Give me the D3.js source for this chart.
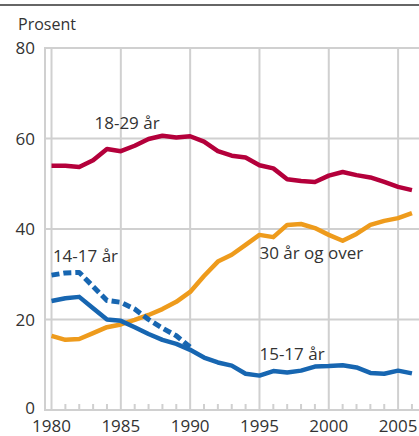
<!DOCTYPE html>
<html>
<head>
<meta charset="utf-8">
<script src="https://cdn.jsdelivr.net/npm/d3@7"></script>
<style>
  body { margin: 0; background: #fff; }
  text { font-family: "Open Sans", sans-serif; fill: #333; }
</style>
</head>
<body>
<div id="chart"></div>
<script>
const years = d3.range(1980, 2007);
const age18to29 = [54.0, 54.0, 53.7, 55.2, 57.7, 57.2, 58.4, 59.9, 60.6, 60.2, 60.5, 59.3, 57.2, 56.2, 55.8, 54.1, 53.4, 51.0, 50.6, 50.4, 51.8, 52.6, 51.9, 51.4, 50.4, 49.3, 48.6];
const age30plus = [16.4, 15.5, 15.7, 17.0, 18.3, 18.9, 19.9, 21.0, 22.3, 23.9, 26.1, 29.6, 32.8, 34.3, 36.5, 38.7, 38.2, 40.9, 41.1, 40.2, 38.7, 37.4, 38.9, 40.9, 41.8, 42.4, 43.5];
const age15to17 = [24.1, 24.7, 25.0, 22.5, 20.0, 19.7, 18.3, 16.8, 15.5, 14.6, 13.3, 11.6, 10.5, 9.8, 8.0, 7.6, 8.6, 8.3, 8.7, 9.6, 9.7, 9.9, 9.4, 8.2, 8.0, 8.7, 8.1];
const years14to17 = d3.range(1980, 1991);
const age14to17 = [29.8, 30.3, 30.4, 27.3, 24.2, 23.8, 22.3, 20.0, 18.1, 16.4, 13.9];
const yTicks = [0, 20, 40, 60, 80];
const xTicks = [1980, 1985, 1990, 1995, 2000, 2005];

const width = 419, height = 436;
const svg = d3.select("#chart").append("svg")
    .attr("width", width)
    .attr("height", height);

const x = d3.scaleLinear().domain([1979.53, 2006.4]).range([45, 417.5]);
const y = d3.scaleLinear().domain([0, 80]).range([410, 48]);

const grid = "#d0d0d0";

// top rule
svg.append("line")
    .attr("x1", 0).attr("x2", width)
    .attr("y1", 5).attr("y2", 5)
    .attr("stroke", "#333").attr("stroke-width", 1.5);

svg.append("text")
    .attr("x", 18).attr("y", 30)
    .style("font-size", "16px")
    .text("Prosent");

// horizontal grid
svg.selectAll(".hgrid")
    .data(yTicks.filter(d => d > 0))
    .enter().append("line")
    .attr("x1", x.range()[0]).attr("x2", width)
    .attr("y1", d => y(d)).attr("y2", d => y(d))
    .attr("stroke", grid).attr("stroke-width", 2);

// vertical grid
svg.selectAll(".vgrid")
    .data(xTicks)
    .enter().append("line")
    .attr("x1", d => x(d)).attr("x2", d => x(d))
    .attr("y1", y(80)).attr("y2", y(0))
    .attr("stroke", grid).attr("stroke-width", 2);

// minor ticks
svg.selectAll(".minor")
    .data(years.filter(d => d % 5 !== 0))
    .enter().append("line")
    .attr("x1", d => x(d)).attr("x2", d => x(d))
    .attr("y1", y(0) - 6).attr("y2", y(0))
    .attr("stroke", grid).attr("stroke-width", 2);

// axes lines
svg.append("line")
    .attr("x1", x.range()[0]).attr("x2", x.range()[0])
    .attr("y1", y(80) - 1).attr("y2", y(0))
    .attr("stroke", grid).attr("stroke-width", 2);
svg.append("line")
    .attr("x1", x.range()[0] - 1).attr("x2", width)
    .attr("y1", y(0)).attr("y2", y(0))
    .attr("stroke", grid).attr("stroke-width", 2);

// tick labels
svg.selectAll(".ylab")
    .data(yTicks)
    .enter().append("text")
    .attr("x", 35)
    .attr("y", d => y(d) - (d === 0 ? 2 : 0))
    .attr("dy", "0.36em")
    .attr("text-anchor", "end")
    .style("font-size", "17px")
    .text(d => d);

svg.selectAll(".xlab")
    .data(xTicks)
    .enter().append("text")
    .attr("x", d => x(d))
    .attr("y", 432)
    .attr("text-anchor", "middle")
    .style("font-size", "17px")
    .text(d => d);

const line = d3.line()
    .x(d => x(d[0]))
    .y(d => y(d[1]));

function drawSeries(xs, vals, color, dash) {
    svg.append("path")
        .datum(xs.map((yr, i) => [yr, vals[i]]))
        .attr("fill", "none")
        .attr("stroke", color)
        .attr("stroke-width", dash ? 5 : 4.5)
        .attr("stroke-linejoin", "round")
        .attr("stroke-dasharray", dash || null)
        .attr("d", line);
}

drawSeries(years, age30plus, "#ee9b1c", null);
drawSeries(years14to17, age14to17, "#1766b1", "8,4");
drawSeries(years, age15to17, "#1766b1", null);
drawSeries(years, age18to29, "#b4003b", null);

const labels = [
    {text: "18-29 år", x: 1983.1, v: 62.2},
    {text: "14-17 år", x: 1980.1, v: 32.8},
    {text: "30 år og over", x: 1995.0, v: 33.4},
    {text: "15-17 år", x: 1995.0, v: 11.0}
];
svg.selectAll(".lab")
    .data(labels)
    .enter().append("text")
    .attr("x", d => x(d.x))
    .attr("y", d => y(d.v))
    .style("font-size", "17px")
    .text(d => d.text);
</script>
</body>
</html>
